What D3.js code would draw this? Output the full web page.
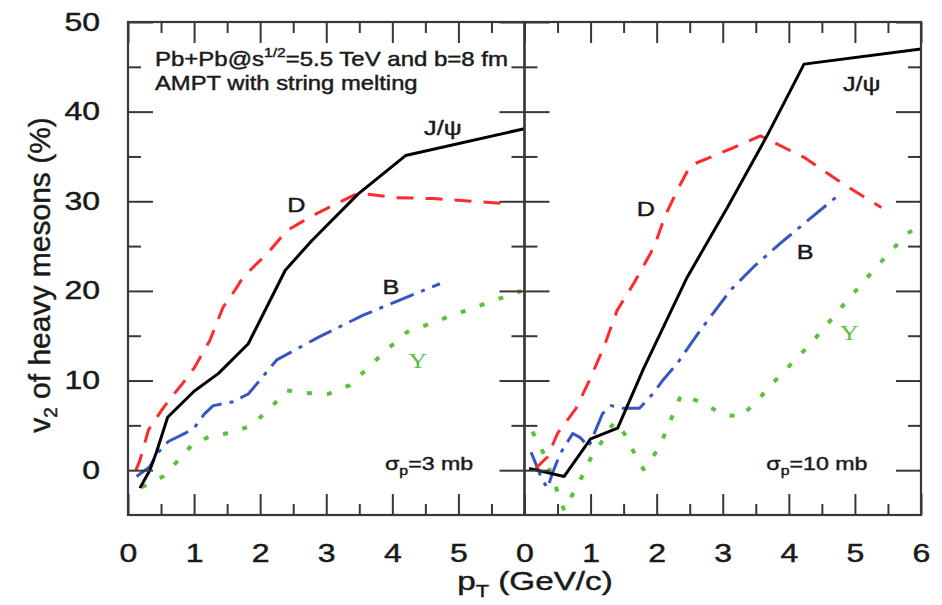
<!DOCTYPE html>
<html><head><meta charset="utf-8">
<script src="https://cdn.jsdelivr.net/npm/d3@7"></script>
<style>
html,body{margin:0;padding:0;background:#fff;}
svg{display:block;font-family:"Liberation Sans",Arial,Helvetica,sans-serif;}
text.dark{stroke:#1a1a1a;stroke-width:0.45px;}
</style></head><body>
<svg id="chart" width="942" height="605"></svg>
<script>
// ---------------- data ----------------
const panelNames = ["σp=3 mb", "σp=10 mb"];
const xMajor = [0, 1, 2, 3, 4, 5, 6];
const xMinor = [0.5, 1.5, 2.5, 3.5, 4.5, 5.5];
const yMajor = [0, 10, 20, 30, 40, 50];
const yMinor = [5, 15, 25, 35, 45];
const xLabelsLeft = ["0", "1", "2", "3", "4", "5", ""];
const xLabelsRight = ["0", "1", "2", "3", "4", "5", "6"];
const yLabels = ["0", "10", "20", "30", "40", "50"];

// sigma_p = 3 mb (left panel)
const jpsiL_x = [0.18, 0.33, 0.43, 0.6, 1.0, 1.37, 1.82, 2.38, 2.78, 3.48, 4.2, 6.0];
const jpsiL_y = [-2.0, 0.0, 2.0, 5.9, 8.8, 10.8, 14.1, 22.3, 25.6, 30.8, 35.1, 38.1];
const dL_x = [0.12, 0.18, 0.31, 0.51, 0.64, 0.84, 1.01, 1.24, 1.44, 1.62, 1.74, 1.97, 2.1, 2.4, 2.63, 2.9, 3.48, 4.06, 4.62, 5.22, 5.8];
const dL_y = [0.0, 1.1, 4.5, 6.7, 8.0, 9.8, 11.5, 14.5, 18.2, 20.1, 21.5, 23.2, 24.1, 26.7, 27.7, 28.8, 30.9, 30.4, 30.3, 30.0, 29.7];
const bL_x = [0.13, 0.33, 0.46, 0.61, 0.86, 1.01, 1.16, 1.29, 1.57, 1.82, 1.97, 2.25, 2.9, 3.56, 4.72];
const bL_y = [-0.7, 0.4, 2.0, 3.2, 4.1, 4.8, 6.3, 7.2, 7.6, 8.5, 9.8, 12.3, 14.9, 17.3, 20.8];
const uL_x = [0.21, 0.53, 0.76, 0.99, 1.29, 1.59, 1.87, 2.15, 2.4, 2.73, 3.03, 3.36, 3.91, 4.22, 4.92, 5.95];
const uL_y = [-1.9, -0.7, 1.1, 3.0, 3.9, 4.2, 5.0, 6.9, 8.9, 8.6, 8.5, 9.5, 13.4, 15.4, 17.3, 20.0];

// sigma_p = 10 mb (right panel)
const jpsiR_x = [0.07, 0.6, 1.0, 1.41, 1.8, 2.46, 3.07, 3.67, 4.23, 6.0];
const jpsiR_y = [0.2, -0.7, 3.5, 4.7, 11.3, 21.5, 29.3, 37.3, 45.3, 47.0];
const dR_x = [0.17, 0.35, 0.5, 0.78, 0.98, 1.2, 1.4, 1.65, 1.96, 2.13, 2.31, 2.51, 3.17, 3.57, 4.23, 4.83, 5.4];
const dR_y = [0.2, 1.5, 4.1, 6.9, 10.0, 13.7, 17.8, 20.8, 24.9, 28.4, 31.2, 34.0, 36.0, 37.3, 34.9, 31.9, 29.3];
const bR_x = [0.1, 0.27, 0.35, 0.42, 0.5, 0.57, 0.73, 0.85, 0.97, 1.18, 1.31, 1.48, 1.74, 1.94, 2.09, 2.31, 2.66, 3.12, 3.47, 3.87, 4.77];
const bR_y = [2.0, -1.1, -2.0, -0.4, 1.1, 2.2, 4.1, 3.6, 2.6, 6.3, 7.2, 6.9, 6.9, 8.5, 10.0, 11.9, 15.6, 20.1, 22.7, 25.3, 30.8];
const uR_x = [0.12, 0.3, 0.5, 0.6, 0.72, 0.87, 1.0, 1.18, 1.36, 1.51, 1.64, 1.8, 2.01, 2.14, 2.37, 2.66, 2.99, 3.27, 3.55, 3.82, 4.33, 4.8, 5.28, 5.79, 5.93];
const uR_y = [4.3, 1.7, -2.4, -4.5, -2.8, -0.7, 1.3, 3.3, 5.4, 4.1, 2.2, 0.1, 2.2, 4.3, 8.4, 7.6, 6.3, 5.9, 8.0, 10.2, 14.1, 18.2, 22.3, 26.4, 27.0];

const seriesNames = ["J/ψ", "D", "B", "Υ"];

// ---------------- layout / style ----------------
const svg = d3.select("#chart");
const X0 = 128, XM = 524.5, X1 = 921, Y0 = 22, Y1 = 515;
const y = d3.scaleLinear().domain([-5, 50]).range([Y1, Y0]);
const xs = [d3.scaleLinear().domain([0, 6]).range([X0, XM]),
            d3.scaleLinear().domain([0, 6]).range([XM, X1])];
const frameColor = "#383838";
const styles = [
  {color: "#000000", dash: null, w: 3},
  {color: "#ff2a2a", dash: "17,12", w: 3},
  {color: "#3556c4", dash: "25,8,4,8", w: 3},
  {color: "#58c23c", dash: "5,15", w: 4}
];
const SX = 1.28; // horizontal text stretch of the original figure

function stext(parent, x, yy, sx, size, opts = {}) {
  const g = parent.append("g").attr("transform", `translate(${x},${yy}) scale(${sx},1)`);
  const t = g.append("text").attr("font-size", size)
    .attr("fill", opts.fill || "#1a1a1a")
    .attr("text-anchor", opts.anchor || "start");
  if (!opts.fill) t.attr("class", "dark");
  if (opts.family) t.attr("font-family", opts.family);
  return t;
}

const panelData = [
  [d3.zip(jpsiL_x, jpsiL_y), d3.zip(dL_x, dL_y), d3.zip(bL_x, bL_y), d3.zip(uL_x, uL_y)],
  [d3.zip(jpsiR_x, jpsiR_y), d3.zip(dR_x, dR_y), d3.zip(bR_x, bR_y), d3.zip(uR_x, uR_y)]
];

const defs = svg.append("defs");
panelData.forEach((series, p) => {
  const x = xs[p];
  defs.append("clipPath").attr("id", "clip" + p).append("rect")
    .attr("x", x.range()[0]).attr("y", Y0).attr("width", x.range()[1] - x.range()[0]).attr("height", Y1 - Y0);
  const line = d3.line().x(d => x(d[0])).y(d => y(d[1]));
  const g = svg.append("g").attr("clip-path", `url(#clip${p})`);
  [3, 2, 1, 0].forEach(i => {
    const st = styles[i];
    g.append("path").datum(series[i]).attr("d", line)
      .attr("fill", "none").attr("stroke", st.color).attr("stroke-width", st.w)
      .attr("stroke-linejoin", "round")
      .attr("stroke-dasharray", st.dash);
  });
});

// ---------------- axes / frames ----------------
function styleAxis(g) {
  g.select(".domain").remove();
  g.selectAll(".tick line").attr("stroke", frameColor).attr("stroke-width", 2);
  g.selectAll("text").attr("font-size", 25).attr("fill", "#1a1a1a").attr("class", "dark")
    .attr("font-family", '"Liberation Sans",Arial,sans-serif');
}
xs.forEach((x, p) => {
  const labels = p === 0 ? xLabelsLeft : xLabelsRight;
  const gb = svg.append("g").attr("transform", `translate(0,${Y1})`)
    .call(d3.axisBottom(x).tickValues(xMajor).tickSize(-21).tickSizeOuter(0).tickPadding(29)
      .tickFormat((d, i) => labels[i]));
  styleAxis(gb);
  gb.selectAll("text").attr("transform", `scale(${SX},1)`);
  styleAxis(svg.append("g").attr("transform", `translate(0,${Y1})`)
    .call(d3.axisBottom(x).tickValues(xMinor).tickSize(-11).tickSizeOuter(0).tickFormat("")));
  styleAxis(svg.append("g").attr("transform", `translate(0,${Y0})`)
    .call(d3.axisTop(x).tickValues(xMajor).tickSize(-21).tickSizeOuter(0).tickFormat("")));
  styleAxis(svg.append("g").attr("transform", `translate(0,${Y0})`)
    .call(d3.axisTop(x).tickValues(xMinor).tickSize(-11).tickSizeOuter(0).tickFormat("")));

  const xl = x.range()[0], xr = x.range()[1];
  const gl = svg.append("g").attr("transform", `translate(${xl},0)`)
    .call(d3.axisLeft(y).tickValues(yMajor).tickSize(-25).tickSizeOuter(0).tickPadding(28)
      .tickFormat((d, i) => p === 0 ? yLabels[i] : ""));
  styleAxis(gl);
  gl.selectAll("text").attr("x", -28 / SX).attr("transform", `scale(${SX},1)`);
  styleAxis(svg.append("g").attr("transform", `translate(${xl},0)`)
    .call(d3.axisLeft(y).tickValues(yMinor).tickSize(-13).tickSizeOuter(0).tickFormat("")));
  styleAxis(svg.append("g").attr("transform", `translate(${xr},0)`)
    .call(d3.axisRight(y).tickValues(yMajor).tickSize(-25).tickSizeOuter(0).tickFormat("")));
  styleAxis(svg.append("g").attr("transform", `translate(${xr},0)`)
    .call(d3.axisRight(y).tickValues(yMinor).tickSize(-13).tickSizeOuter(0).tickFormat("")));

  svg.append("rect").attr("x", xl).attr("y", Y0).attr("width", xr - xl).attr("height", Y1 - Y0)
    .attr("fill", "none").attr("stroke", frameColor).attr("stroke-width", 2.2);
});

// ---------------- axis titles ----------------
const yt = svg.append("text").attr("transform", "translate(50,275) rotate(-90)")
  .attr("class", "dark")
  .attr("text-anchor", "middle").attr("font-size", 30).attr("fill", "#1a1a1a");
yt.append("tspan").text("v");
yt.append("tspan").attr("font-size", 19).attr("dy", 7).text("2");
yt.append("tspan").attr("dy", -7).text(" of heavy mesons (%)");

const xt = stext(svg, 535, 590, SX, 26, {anchor: "middle"});
xt.append("tspan").text("p");
xt.append("tspan").attr("font-size", 17).attr("dy", 7).text("T");
xt.append("tspan").attr("dy", -7).text(" (GeV/c)");

// ---------------- annotations ----------------
const a1 = stext(svg, 155, 66, 1.2, 20);
a1.append("tspan").text("Pb+Pb@s");
a1.append("tspan").attr("font-size", 13).attr("dy", -9).text("1/2");
a1.append("tspan").attr("dy", 9).text("=5.5 TeV and b=8 fm");
stext(svg, 155, 90, 1.19, 20).text("AMPT with string melting");

const labelPos = [
  // [x, y] in data units for J/psi, D, B, Upsilon labels per panel
  [[4.48, 37.4], [2.41, 28.8], [3.85, 19.7], [4.24, 11.4]],
  [[4.82, 42.3], [1.7, 28.4], [4.12, 23.6], [4.77, 14.5]]
];
labelPos.forEach((pos, p) => {
  const x = xs[p];
  pos.forEach((d, i) => {
    const isU = i === 3;
    stext(svg, x(d[0]), y(d[1]), 1.2, isU ? 22 : 21, {
      fill: isU ? styles[3].color : null,
      family: isU ? '"Liberation Serif","DejaVu Serif",serif' : null
    }).text(seriesNames[i]);
  });
  const s = stext(svg, x(p === 0 ? 3.89 : 3.66), y(0), 1.22, 19);
  s.append("tspan").text("σ");
  s.append("tspan").attr("font-size", 13).attr("dy", 5).text("p");
  s.append("tspan").attr("dy", -5).text(panelNames[p].slice(2));
});
</script>
</body></html>
